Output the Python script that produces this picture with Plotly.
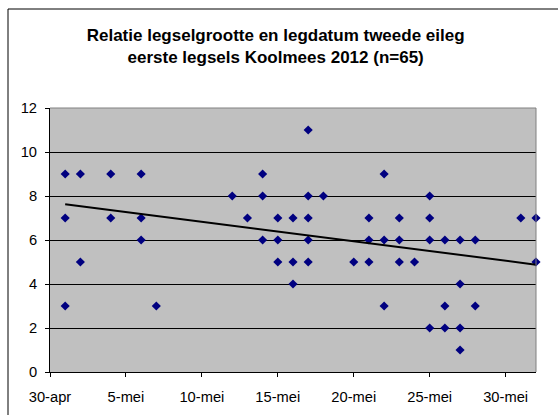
import plotly.graph_objects as go

lay_dates = (
    ["2012-05-01"] * 3 + ["2012-05-02"] * 2 + ["2012-05-04"] * 2 + ["2012-05-06"] * 3 +
    ["2012-05-07"] + ["2012-05-12"] + ["2012-05-13"] + ["2012-05-14"] * 3 +
    ["2012-05-15"] * 3 + ["2012-05-16"] * 3 + ["2012-05-17"] * 5 + ["2012-05-18"] +
    ["2012-05-20"] + ["2012-05-21"] * 3 + ["2012-05-22"] * 3 + ["2012-05-23"] * 3 +
    ["2012-05-24"] + ["2012-05-25"] * 4 + ["2012-05-26"] * 3 + ["2012-05-27"] * 4 +
    ["2012-05-28"] * 2 + ["2012-05-31"] + ["2012-06-01"] * 2
)
clutch_sizes = [
    9, 7, 3, 9, 5, 9, 7, 9, 7, 6, 3, 8, 7, 9, 8, 6, 7, 6, 5, 7, 5, 4,
    11, 8, 7, 6, 5, 8, 5, 7, 6, 5, 9, 6, 3, 7, 6, 5, 5, 8, 7, 6, 2,
    6, 3, 2, 6, 4, 2, 1, 6, 3, 7, 7, 5,
]
trend_dates = ["2012-05-01", "2012-06-01"]
trend_values = [7.63, 4.88]
x_tick_dates = ["2012-04-30", "2012-05-05", "2012-05-10", "2012-05-15",
                "2012-05-20", "2012-05-25", "2012-05-30"]
x_tick_labels = ["30-apr", "5-mei", "10-mei", "15-mei", "20-mei", "25-mei", "30-mei"]
y_ticks = [0, 2, 4, 6, 8, 10, 12]

FONT = "Liberation Sans, Arial, sans-serif"

fig = go.Figure()
fig.add_trace(go.Scatter(
    x=lay_dates, y=clutch_sizes, mode="markers",
    marker=dict(symbol="diamond", size=7, color="#000080", line=dict(width=0)),
    showlegend=False, cliponaxis=False,
))
fig.add_trace(go.Scatter(
    x=trend_dates, y=trend_values, mode="lines",
    line=dict(color="black", width=2), showlegend=False,
))

fig.update_layout(
    width=558, height=415,
    margin=dict(l=50, r=22, t=108, b=43, autoexpand=False),
    paper_bgcolor="white", plot_bgcolor="#C0C0C0",
    font=dict(family=FONT, size=14.7, color="black"),
    title=dict(
        text="<b>Relatie legselgrootte en legdatum tweede eileg<br>eerste legsels Koolmees 2012 (n=65)</b>",
        font=dict(family=FONT, size=17, color="black"),
        x=0.494, xanchor="center", xref="container",
        y=1 - 41 / 415, yanchor="middle", yref="container",
    ),
    xaxis=dict(
        type="date", range=["2012-04-30", "2012-06-01"],
        tickvals=x_tick_dates, ticktext=x_tick_labels,
        showgrid=False, zeroline=False, automargin=False,
        showline=True, linecolor="black", linewidth=1,
        ticks="outside", ticklen=4, tickcolor="black",
        ticklabelstandoff=7,
    ),
    yaxis=dict(
        range=[0, 12], tickvals=y_ticks,
        showgrid=True, gridcolor="black", gridwidth=1,
        zeroline=False, automargin=False,
        showline=True, linecolor="black", linewidth=1,
        ticks="outside", ticklen=4, tickcolor="black",
        ticklabelstandoff=5,
    ),
    shapes=[
        dict(type="line", xref="paper", yref="paper", x0=0, x1=1, y0=1, y1=1,
             line=dict(color="#808080", width=1)),
        dict(type="line", xref="paper", yref="paper", x0=1, x1=1, y0=0, y1=1,
             line=dict(color="#808080", width=1)),
        dict(type="line", xref="paper", yref="paper",
             x0=(8 - 50) / 486, x1=(8 - 50) / 486, y0=-0.2, y1=1 + (108 - 9) / 264,
             line=dict(color="black", width=1)),
        dict(type="line", xref="paper", yref="paper",
             x0=(8 - 50) / 486, x1=1.1, y0=1 + (108 - 9) / 264, y1=1 + (108 - 9) / 264,
             line=dict(color="black", width=1)),
    ],
)

fig.write_html("out.html", config={"displayModeBar": False},
               post_script="document.body.style.margin='0';")
